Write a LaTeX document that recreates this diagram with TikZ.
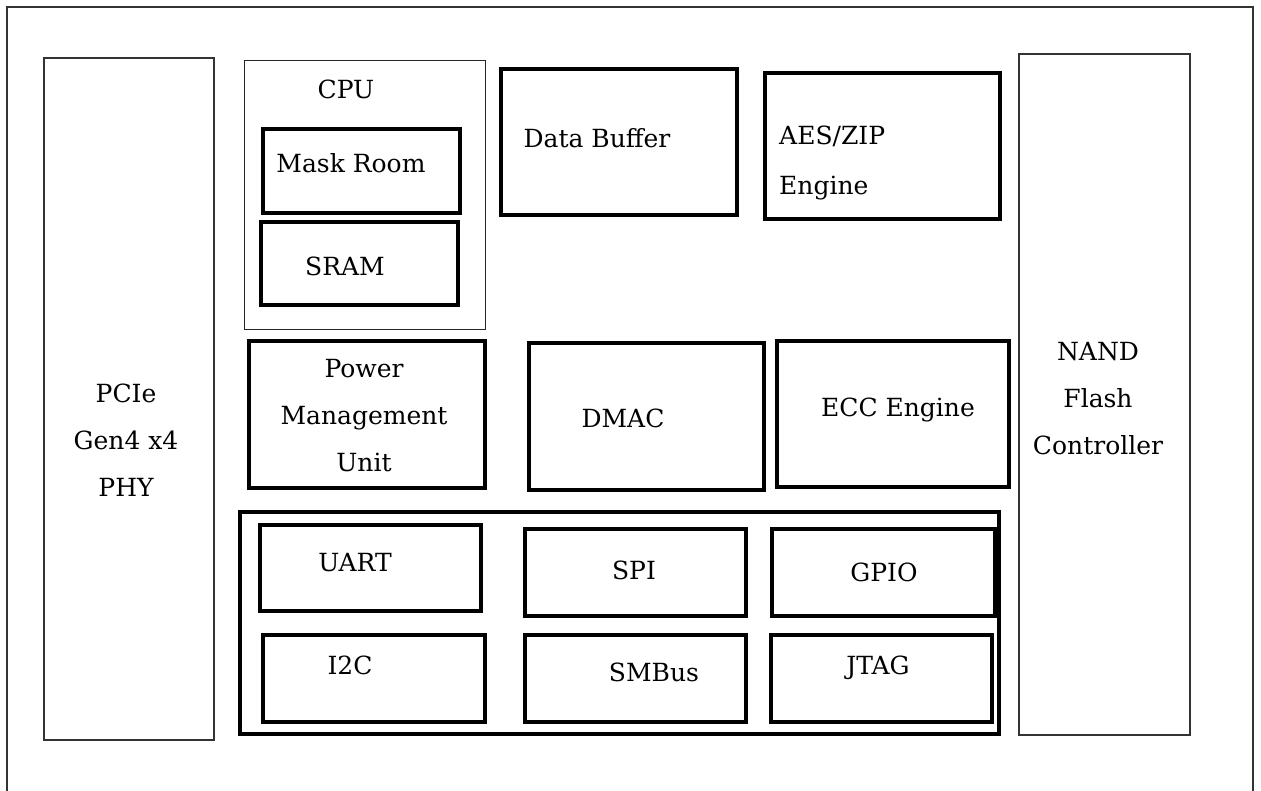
\documentclass[tikz,border=0pt]{standalone}
\usepackage{fontspec}
\setmainfont{DejaVu Serif}
\usetikzlibrary{positioning}

\tikzset{
  blk/.style={line width=4.6pt},
  thinblk/.style={line width=1.7pt, draw=black!80},
  hairblk/.style={line width=0.9pt, draw=black!85},
  lbl/.style={font=\fontsize{25}{30}\selectfont, inner sep=0pt},
  stack/.style={lbl, align=center, font=\fontsize{25}{47}\selectfont},
}

\begin{document}
\begin{tikzpicture}[x=1pt, y=-1pt]
  \useasboundingbox (0,0) rectangle (1261,791);
  % outer frame, open at the bottom
  \draw[thinblk] (7,791) -- (7,7) -- (1253,7) -- (1253,791);

  % side blocks
  \draw[thinblk] (44,58) rectangle (214,740);
  \node[stack] (pcie) at (126,440) {PCIe\\Gen4 x4\\PHY};
  \draw[thinblk] (1019,54) rectangle (1190,735);
  \node[stack] (nand) at (1098,399) {NAND\\Flash\\Controller};

  % CPU with its memories
  \draw[hairblk] (244,60) rectangle (485,329);
  \node[lbl] (cpu) at (346,89) {CPU};
  \draw[blk] (263,129) rectangle (460,213);
  \node[lbl] (mask) at (351,163) {Mask Room};
  \draw[blk] (261,222) rectangle (458,305);
  \node[lbl] (sram) at (345,266) {SRAM};

  % top row
  \draw[blk] (501,69) rectangle (737,215);
  \node[lbl] (buf) at (597,138) {Data Buffer};
  \draw[blk] (765,73) rectangle (1000,219);
  \node[lbl, align=left, anchor=west, font=\fontsize{25}{50}\selectfont] (aes) at (779,163) {AES/ZIP\\Engine};

  % middle row
  \draw[blk] (249,341) rectangle (485,488);
  \node[stack] (pmu) at (364,416) {Power\\Management\\Unit};
  \draw[blk] (529,343) rectangle (764,490);
  \node[lbl] (dmac) at (623,418) {DMAC};
  \draw[blk] (777,341) rectangle (1009,487);
  \node[lbl] (ecc) at (898,410) {ECC Engine};

  % peripheral group
  \draw[blk] (240,512) rectangle (999,734);
  \draw[blk] (260,525) rectangle (481,611);
  \node[lbl] (uart) at (355,563) {UART};
  \draw[blk] (525,529) rectangle (746,616);
  \node[lbl] (spi) at (634,570) {SPI};
  \draw[blk] (772,529) rectangle (995,616);
  \node[lbl] (gpio) at (884,572) {GPIO};
  \draw[blk] (263,635) rectangle (485,722);
  \node[lbl] (iic) at (350,665) {I2C};
  \draw[blk] (525,635) rectangle (746,722);
  \node[lbl] (smbus) at (654,672) {SMBus};
  \draw[blk] (771,635) rectangle (992,722);
  \node[lbl] (jtag) at (878,668) {JTAG};
\end{tikzpicture}
\end{document}
